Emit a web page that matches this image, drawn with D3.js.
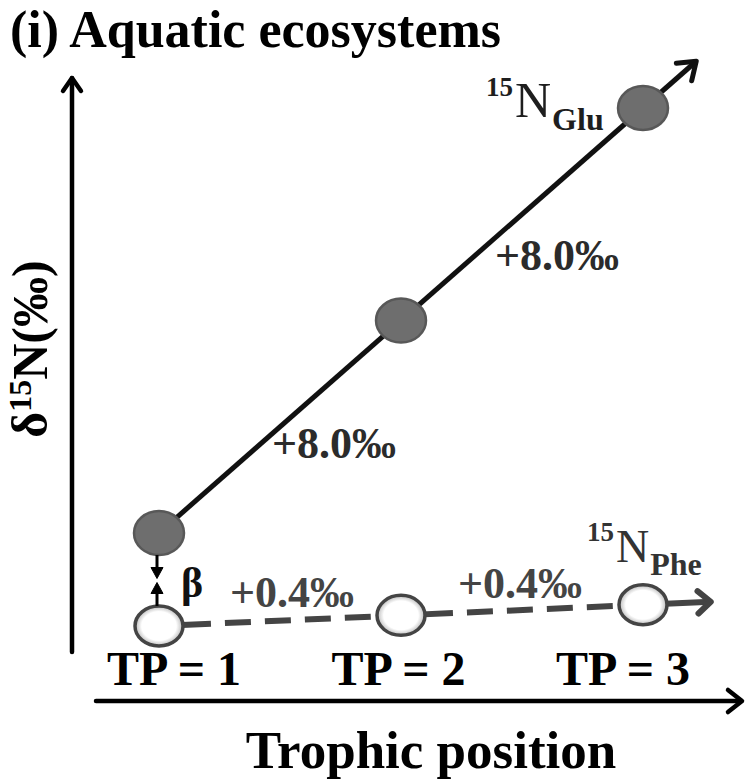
<!DOCTYPE html>
<html>
<head>
<meta charset="utf-8">
<script src="https://cdn.jsdelivr.net/npm/d3@7"></script>
<style>
  html, body { margin: 0; padding: 0; background: #fff; }
  svg { display: block; }
  text { font-family: "Liberation Serif", "Times New Roman", serif; font-weight: bold; }
</style>
</head>
<body>
<div id="chart"></div>
<script>
// Trophic positions and δ15N values (‰) of the two amino acids
const trophicPositions = [1, 2, 3];
const tpLabels = ["TP = 1", "TP = 2", "TP = 3"];
const beta = 3.5;                       // Glu–Phe offset at TP = 1
const gluValues = [3.5, 11.5, 19.5];    // +8.0‰ per trophic step
const pheValues = [0.0, 0.4, 0.8];      // +0.4‰ per trophic step
const gluSteps = ["+8.0‰", "+8.0‰"];
const pheSteps = ["+0.4‰", "+0.4‰"];

const width = 749, height = 783;
const svg = d3.select("#chart").append("svg")
  .attr("width", width).attr("height", height);

const x = d3.scaleLinear().domain([1, 3]).range([159, 643]);
const y = d3.scaleLinear().domain([0, 19.5]).range([626, 108]);
const xLabel = d3.scalePoint().domain(tpLabels).range([174, 623]);

const defs = svg.append("defs");
const grad = defs.append("radialGradient").attr("id", "pheFill");
grad.append("stop").attr("offset", "72%").attr("stop-color", "#ffffff");
grad.append("stop").attr("offset", "100%").attr("stop-color", "#b8b8b8");

// Title
svg.append("text").attr("x", 10).attr("y", 47)
  .attr("font-size", 52).attr("fill", "#000")
  .text("(i) Aquatic ecosystems");

// Axes drawn as arrows
const axisG = svg.append("g").attr("stroke", "#000").attr("stroke-width", 4.5)
  .attr("fill", "none").attr("stroke-linecap", "round").attr("stroke-linejoin", "round");
axisG.append("line").attr("x1", 72).attr("y1", 652).attr("x2", 72).attr("y2", 78);
axisG.append("path").attr("d", "M63,91 L72,78 L81,91");
axisG.append("line").attr("x1", 96).attr("y1", 701).attr("x2", 741).attr("y2", 701);
axisG.append("path").attr("d", "M728,690 L742,701 L728,712");

// Axis titles
svg.append("text").attr("x", 431).attr("y", 768).attr("text-anchor", "middle")
  .attr("font-size", 53).attr("fill", "#000").text("Trophic position");

const yl = svg.append("text").attr("transform", "translate(47,349) rotate(-90)")
  .attr("text-anchor", "middle").attr("font-size", 50).attr("fill", "#000");
yl.append("tspan").text("δ");
yl.append("tspan").attr("font-size", 32).attr("dy", -16).text("15");
yl.append("tspan").attr("dy", 16).text("N(‰)");

// TP labels
svg.selectAll("text.tp").data(tpLabels).join("text").attr("class", "tp")
  .attr("x", d => xLabel(d)).attr("y", 685).attr("text-anchor", "middle")
  .attr("font-size", 48).attr("fill", "#000")
  .text(d => d);

// Value of a series extended past TP = 3 along its last step
function extend(vals, tp) {
  return vals[2] + (vals[2] - vals[1]) * (tp - 3);
}
function arrowHead(tx, ty, ang, L, a) {
  return `M${tx - L*Math.cos(ang - a)},${ty - L*Math.sin(ang - a)} L${tx},${ty} L${tx - L*Math.cos(ang + a)},${ty - L*Math.sin(ang + a)}`;
}

// Glu line with arrow
const gluExt = 3.22;
{
  const tx = x(gluExt), ty = y(extend(gluValues, gluExt));
  svg.append("line")
    .attr("x1", x(1)).attr("y1", y(gluValues[0]))
    .attr("x2", tx).attr("y2", ty)
    .attr("stroke", "#111").attr("stroke-width", 5);
  const ang = Math.atan2(ty - y(gluValues[2]), tx - x(3));
  svg.append("path").attr("d", arrowHead(tx, ty, ang, 20, 0.62))
    .attr("stroke", "#111").attr("stroke-width", 5).attr("fill", "none")
    .attr("stroke-linecap", "round").attr("stroke-linejoin", "round");
}

// Phe dashed line with arrow
const pheExt = 3.28;
{
  const pts = trophicPositions.map((d, i) => [x(d), y(pheValues[i])]);
  for (let i = 0; i < 2; i++) {
    const [x0, y0] = pts[i], [x1, y1] = pts[i + 1];
    svg.append("line").attr("x1", x0).attr("y1", y0).attr("x2", x1).attr("y2", y1)
      .attr("stroke", "#444").attr("stroke-width", 6)
      .attr("stroke-dasharray", "52,14,26,14,26,14,26,14,26,14,200");
  }
  const [sx, sy] = pts[2];
  const tx = x(pheExt), ty = y(extend(pheValues, pheExt));
  svg.append("line").attr("x1", sx).attr("y1", sy).attr("x2", tx).attr("y2", ty)
    .attr("stroke", "#444").attr("stroke-width", 6);
  const ang = Math.atan2(ty - sy, tx - sx);
  svg.append("path").attr("d", arrowHead(tx, ty, ang, 17, 0.72))
    .attr("stroke", "#444").attr("stroke-width", 6).attr("fill", "none")
    .attr("stroke-linecap", "round").attr("stroke-linejoin", "round");
}

// Points
svg.selectAll("ellipse.glu").data(trophicPositions).join("ellipse").attr("class", "glu")
  .attr("cx", d => x(d)).attr("cy", (d, i) => y(gluValues[i]))
  .attr("rx", 25).attr("ry", 22)
  .attr("fill", "#6e6e6e").attr("stroke", "#585858").attr("stroke-width", 2.5);

svg.selectAll("ellipse.phe").data(trophicPositions).join("ellipse").attr("class", "phe")
  .attr("cx", d => x(d)).attr("cy", (d, i) => y(pheValues[i]))
  .attr("rx", 24).attr("ry", 20)
  .attr("fill", "url(#pheFill)").attr("stroke", "#444").attr("stroke-width", 3.5);

// β double arrow between the TP = 1 points
{
  const bx = x(1) - 2;
  const top = y(gluValues[0]) + 22, bot = y(pheValues[0]) - 20;
  const mid = (top + bot) / 2;
  const g = svg.append("g").attr("fill", "#000").attr("stroke", "#000");
  g.append("line").attr("x1", bx).attr("y1", top).attr("x2", bx).attr("y2", mid - 10).attr("stroke-width", 3);
  g.append("path").attr("d", `M${bx-6},${mid-13} L${bx+6},${mid-13} L${bx},${mid-2} Z`).attr("stroke-width", 1);
  g.append("line").attr("x1", bx).attr("y1", bot).attr("x2", bx).attr("y2", mid + 10).attr("stroke-width", 3);
  g.append("path").attr("d", `M${bx-6},${mid+13} L${bx+6},${mid+13} L${bx},${mid+2} Z`).attr("stroke-width", 1);
  svg.append("text").attr("x", 181).attr("y", 597).attr("font-size", 42)
    .attr("fill", "#111").text("β");
}

// Step labels, offset from the midpoint of each segment
const gluLabelShift = [[54, 31], [35, 56]];
svg.selectAll("text.gstep").data(gluSteps).join("text").attr("class", "gstep")
  .attr("x", (d, i) => (x(i + 1) + x(i + 2)) / 2 + gluLabelShift[i][0])
  .attr("y", (d, i) => y((gluValues[i] + gluValues[i + 1]) / 2) + gluLabelShift[i][1])
  .attr("text-anchor", "middle").attr("font-size", 44).attr("fill", "#2b2b2b").text(d => d);

const pheLabelShift = [[12, -14], [-2, -12]];
svg.selectAll("text.pstep").data(pheSteps).join("text").attr("class", "pstep")
  .attr("x", (d, i) => (x(i + 1) + x(i + 2)) / 2 + pheLabelShift[i][0])
  .attr("y", (d, i) => y((pheValues[i] + pheValues[i + 1]) / 2) + pheLabelShift[i][1])
  .attr("text-anchor", "middle").attr("font-size", 44).attr("fill", "#444").text(d => d);

// Series labels: ¹⁵N with the amino acid as subscript
function seriesLabel(px, py, nSize, sub, color) {
  const t = svg.append("text").attr("x", px).attr("y", py).attr("fill", color);
  t.append("tspan").attr("font-size", 27).attr("dy", -21).text("15");
  t.append("tspan").attr("font-size", nSize).attr("font-weight", "normal").attr("dx", 2).attr("dy", 21).text("N");
  t.append("tspan").attr("font-size", 32).attr("dx", 1).attr("dy", 13).text(sub);
}
seriesLabel(486, 117, 50, "Glu", "#1e1e1e");
seriesLabel(587, 562, 46, "Phe", "#333");
</script>
</body>
</html>
